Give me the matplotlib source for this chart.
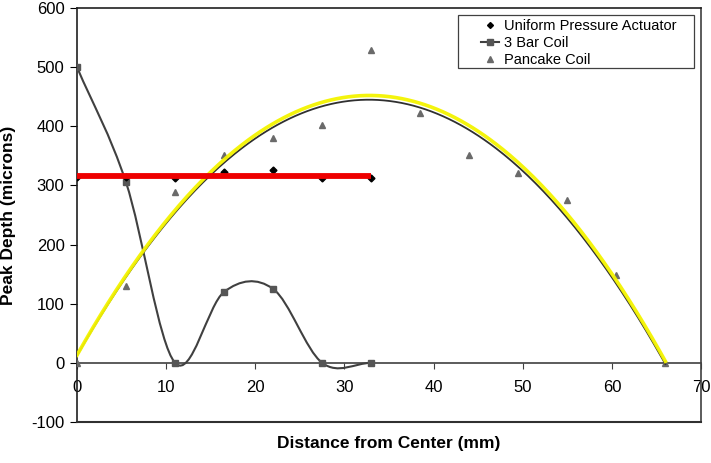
import numpy as np
import matplotlib
matplotlib.use('Agg')
import matplotlib.pyplot as plt
from matplotlib.path import Path
from matplotlib.patches import PathPatch, Rectangle

plt.rcParams['font.family'] = ['Liberation Sans', 'DejaVu Sans']
plt.rcParams['axes.unicode_minus'] = False

# data
x_short = [0, 5.5, 11, 16.5, 22, 27.5, 33]
uniform_y = [315, 314, 313, 322, 326, 313, 313]
bar3_y = [500, 305, 0, 120, 125, 0, 0]

x_long = [0, 5.5, 11, 16.5, 22, 27.5, 33, 38.5, 44, 49.5, 55, 60.5, 66]
pancake_y = [0, 130, 289, 351, 380, 402, 529, 422, 351, 321, 275, 149, 0]

uniform_avg = 316          # red line level
trend_coef = [-0.408, 26.77, 13.0]   # yellow quadratic
trend_dark = [-0.404, 26.45, 12.0]   # dark trendline underneath

yticks = [-100, 0, 100, 200, 300, 400, 500, 600]
xticks = [0, 10, 20, 30, 40, 50, 60, 70]


def smooth_path(xs, ys):
    # excel-like smoothed line as cubic bezier segments
    pts = np.column_stack([xs, ys]).astype(float)
    n = len(pts)
    verts = [pts[0]]
    codes = [Path.MOVETO]
    for i in range(n - 1):
        p_prev = pts[i - 1] if i > 0 else 2 * pts[0] - pts[1]
        p_next2 = pts[i + 2] if i + 2 < n else 2 * pts[-1] - pts[-2]
        c1 = pts[i] + (pts[i + 1] - p_prev) / 6
        c2 = pts[i + 1] - (p_next2 - pts[i]) / 6
        verts += [c1, c2, pts[i + 1]]
        codes += [Path.CURVE4] * 3
    return Path(verts, codes)


fig = plt.figure(figsize=(7.11, 4.63), dpi=100)
ax = fig.add_axes([0.1083, 0.0886, 0.8777, 0.8941])

ax.set_xlim(0, 70)
ax.set_ylim(-100, 600)

# 3 bar coil smoothed curve
ax.add_patch(PathPatch(smooth_path(x_short, bar3_y), facecolor='none',
                       edgecolor='#404040', lw=1.5, zorder=3))
ax.plot(x_short, bar3_y, ls='none', marker='s', ms=4, color='#555555', zorder=4)
ax.plot([], [], color='#404040', lw=1.5, marker='s', ms=4, mfc='#555555',
        mec='#555555', label='3 Bar Coil')

# uniform pressure actuator
ax.plot(x_short, uniform_y, ls='none', marker='D', ms=3.5, color='black',
        zorder=4)
ax.plot([], [], ls='none', marker='D', ms=3, color='black',
        label='Uniform Pressure Actuator')

# pancake coil
ax.plot(x_long, pancake_y, ls='none', marker='^', ms=5, color='#6a6a6a',
        zorder=4)
ax.plot([], [], ls='none', marker='^', ms=4, color='#6a6a6a', label='Pancake Coil')

# trendlines
xx = np.linspace(x_long[0], x_long[-1], 300)
ax.plot(xx, np.polyval(trend_dark, xx), color='#303030', lw=1.3, zorder=5)
ax.plot(xx, np.polyval(trend_coef, xx), color='#f4f400', lw=2.6, zorder=6,
        alpha=0.95)

# red average line
ax.plot([x_short[0], x_short[-1]], [uniform_avg, uniform_avg], color='#ee0000',
        lw=4.2, solid_capstyle='butt', zorder=7)

# axes styling: x axis sits on y=0, frame around plot
ax.spines['bottom'].set_position(('data', 0))
ax.spines['bottom'].set_color('#404040')
ax.spines['left'].set_color('#202020')
ax.spines['top'].set_color('#202020')
ax.spines['right'].set_color('#404040')
ax.axhline(-100, color='#303030', lw=1.5, clip_on=False, zorder=8)
for s in ax.spines.values():
    s.set_linewidth(1.2)

ax.set_xticks(xticks)
ax.set_yticks(yticks)
ax.tick_params(axis='x', direction='out', length=4, pad=8, labelsize=12,
               color='#404040')
ax.tick_params(axis='y', direction='out', length=5, pad=4, labelsize=12)

ax.set_xlabel('Distance from Center (mm)', fontsize=12.5, fontweight='bold')
ax.xaxis.set_label_coords(0.50, -0.035)
ax.set_ylabel('Peak Depth (microns)', fontsize=12.5, fontweight='bold')
ax.yaxis.set_label_coords(-0.097, 0.5)

# legend with a wide plain box like the original
handles, labels = ax.get_legend_handles_labels()
order = [1, 0, 2]
leg = ax.legend([handles[i] for i in order], [labels[i] for i in order],
                loc='upper left', bbox_to_anchor=(0.6456, 0.977),
                fontsize=10.5, frameon=False, handlelength=1.2,
                borderpad=0.1, labelspacing=0.2, handletextpad=0.35,
                borderaxespad=0)
ax.add_patch(Rectangle((0.6106, 0.855), 0.3782, 0.128, transform=ax.transAxes,
                       facecolor='white', edgecolor='#404040', lw=0.9,
                       zorder=9))
leg.set_zorder(10)

fig.savefig('out.png', dpi=100)
